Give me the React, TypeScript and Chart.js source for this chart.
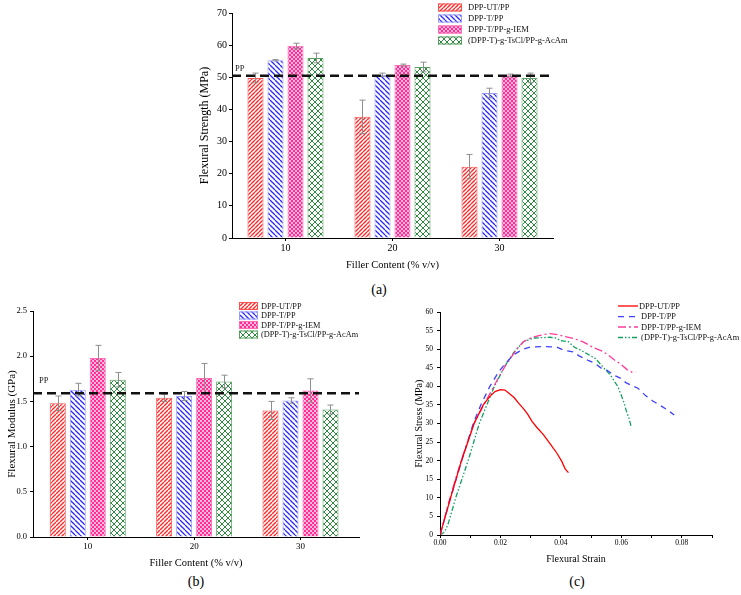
import React, { useEffect, useRef } from "react";
import { Chart, registerables } from "chart.js";
Chart.register(...registerables);

const FONT = "'Liberation Serif', 'Times New Roman', serif";

// ---------- shared ----------
const seriesNames = ["DPP-UT/PP", "DPP-T/PP", "DPP-T/PP-g-IEM", "(DPP-T)-g-TsCl/PP-g-AcAm"];
const fillerContent = [10, 20, 30];

// ---------- (a) Flexural strength (MPa) ----------
const strengthUT = [49.8, 37.7, 22.2];
const strengthUTErr = [1.5, 5.2, 3.8];
const strengthT = [55.3, 50.8, 45.1];
const strengthTErr = [0.2, 0.5, 1.5];
const strengthIEM = [59.8, 53.8, 50.6];
const strengthIEMErr = [0.8, 0.3, 0.4];
const strengthAcAm = [56.0, 53.2, 49.8];
const strengthAcAmErr = [1.5, 1.5, 1.5];
const strengthPP = 50.5;

// ---------- (b) Flexural modulus (GPa) ----------
const modulusUT = [1.48, 1.54, 1.4];
const modulusUTErr = [0.08, 0.04, 0.1];
const modulusT = [1.63, 1.56, 1.51];
const modulusTErr = [0.07, 0.05, 0.03];
const modulusIEM = [1.98, 1.76, 1.62];
const modulusIEMErr = [0.14, 0.16, 0.13];
const modulusAcAm = [1.74, 1.72, 1.41];
const modulusAcAmErr = [0.08, 0.07, 0.05];
const modulusPP = 1.59;

// ---------- (c) stress-strain curves ----------
const strainUT = [0, 0.0035, 0.0071, 0.0113, 0.0143, 0.0165, 0.0182, 0.02, 0.0215, 0.023, 0.0245, 0.026, 0.0276, 0.029, 0.0305, 0.032, 0.0342, 0.0364, 0.0387, 0.0403, 0.0414, 0.0425];
const stressUT = [0, 10, 20, 30, 35, 37.3, 38.6, 39.1, 39, 38, 37, 35.5, 34, 32.5, 30.5, 29, 27, 24.6, 22, 19.8, 17.8, 16.8];
const strainT = [0, 0.0035, 0.0072, 0.011, 0.0135, 0.0165, 0.0195, 0.0215, 0.0243, 0.0275, 0.03, 0.035, 0.0385, 0.041, 0.044, 0.046, 0.049, 0.051, 0.0535, 0.055, 0.0575, 0.0595, 0.0615, 0.064, 0.0655, 0.068, 0.0705, 0.073, 0.0755, 0.0775];
const stressT = [0, 10, 20, 30, 35, 40, 44, 46, 48.5, 50, 50.6, 50.7, 50.6, 49.7, 49.3, 48.2, 47, 46.3, 44.8, 44.5, 43, 42.3, 41, 40, 39.5, 37.5, 36, 34.8, 33.5, 32.3];
const strainIEM = [0, 0.0033, 0.007, 0.0112, 0.0145, 0.0178, 0.0205, 0.022, 0.0254, 0.0276, 0.0305, 0.0335, 0.0364, 0.039, 0.0415, 0.0445, 0.0475, 0.0508, 0.0541, 0.056, 0.0575, 0.0597, 0.0619, 0.0635, 0.0647];
const stressIEM = [0, 10, 20, 30, 35, 40, 44, 46, 50, 52, 53.2, 53.8, 54.2, 53.9, 53.4, 52.8, 51.9, 50.4, 49.3, 48.2, 47.2, 46, 44.5, 43.8, 43.9];
const strainAcAm = [0, 0.0015, 0.0027, 0.0052, 0.0093, 0.013, 0.0155, 0.018, 0.0215, 0.0243, 0.0276, 0.031, 0.0364, 0.0385, 0.0398, 0.0425, 0.0445, 0.0464, 0.0486, 0.0514, 0.0536, 0.0564, 0.0588, 0.0598, 0.0608, 0.0618, 0.0625, 0.0632];
const stressAcAm = [0, 0.8, 3, 10, 20, 30, 35, 40, 45.5, 49, 52, 53, 53.2, 53, 52.3, 52, 50.5, 49.8, 48.8, 47.5, 45.5, 43, 40, 38, 35.8, 33, 31.5, 29.3];

const strainTicks = [0, 0.01, 0.02, 0.03, 0.04, 0.05, 0.06, 0.07, 0.08, 0.09];

// ---------- styles ----------
const barColors = ["#ff2a2a", "#2a2aff", "#ff2d96", "#2f8a40"];
const barBorders = ["#ff5050", "#9a9aff", "#ff6ab4", "#5a9e62"];
const patternKinds = ["fwd", "back", "check", "cross"];
const lineColors = ["#ff0000", "#4040ff", "#ff3c9a", "#14a060"];
const lineDashes: number[][] = [[], [6, 5], [8, 3, 2, 3], [5, 2, 1.5, 2, 1.5, 2]];

function makePattern(kind: string, color: string): CanvasPattern | string {
  const c = document.createElement("canvas");
  const s = kind === "fwd" ? 4 : kind === "back" ? 5 : kind === "check" ? 4 : 6;
  c.width = s;
  c.height = s;
  const g = c.getContext("2d");
  if (!g) return color;
  g.fillStyle = "#fff";
  g.fillRect(0, 0, s, s);
  g.strokeStyle = color;
  g.fillStyle = color;
  if (kind === "check") {
    g.fillRect(0, 0, 2, 2);
    g.fillRect(2, 2, 2, 2);
    g.globalAlpha = 0.35;
    g.fillRect(2, 0, 2, 2);
    g.fillRect(0, 2, 2, 2);
    g.globalAlpha = 1;
  } else {
    g.lineWidth = kind === "fwd" ? 1.4 : kind === "back" ? 1.3 : 1;
    for (const k of [-s, 0, s]) {
      if (kind === "fwd" || kind === "cross") {
        g.beginPath();
        g.moveTo(k, s);
        g.lineTo(k + s, 0);
        g.stroke();
      }
      if (kind === "back" || kind === "cross") {
        g.beginPath();
        g.moveTo(k, 0);
        g.lineTo(k + s, s);
        g.stroke();
      }
    }
  }
  const p = g.createPattern(c, "repeat");
  return p || color;
}

type LegendCfg = {
  x: number;
  w: number;
  h: number;
  textX: number;
  rows: number[];
  font: number;
  kind: "box" | "line";
};

function overlayPlugin(opts: {
  errors?: number[][];
  pp?: number;
  ppDx?: number;
  ppDy?: number;
  legend: LegendCfg;
}) {
  return {
    id: "overlay",
    afterDatasetsDraw(chart: any) {
      const ctx: CanvasRenderingContext2D = chart.ctx;
      const yS = chart.scales.y;
      const area = chart.chartArea;
      if (opts.errors) {
        ctx.save();
        ctx.strokeStyle = "#8e8e8e";
        ctx.lineWidth = 1;
        opts.errors.forEach((arr, di) => {
          const meta = chart.getDatasetMeta(di);
          meta.data.forEach((el: any, j: number) => {
            const v = chart.data.datasets[di].data[j].y;
            const x = Math.round(el.x) + 0.5;
            const t = yS.getPixelForValue(v + arr[j]);
            const b = yS.getPixelForValue(v - arr[j]);
            ctx.beginPath();
            ctx.moveTo(x, t);
            ctx.lineTo(x, b);
            ctx.moveTo(x - 3, t);
            ctx.lineTo(x + 3, t);
            ctx.moveTo(x - 3, b);
            ctx.lineTo(x + 3, b);
            ctx.stroke();
          });
        });
        ctx.restore();
      }
      if (opts.pp !== undefined) {
        const py = yS.getPixelForValue(opts.pp);
        ctx.save();
        ctx.strokeStyle = "#111";
        ctx.lineWidth = 2.5;
        ctx.setLineDash([9, 5]);
        ctx.beginPath();
        ctx.moveTo(area.left, py);
        ctx.lineTo(area.right, py);
        ctx.stroke();
        ctx.setLineDash([]);
        ctx.fillStyle = "#222";
        ctx.font = `8.5px ${FONT}`;
        ctx.textAlign = "left";
        ctx.textBaseline = "middle";
        ctx.fillText("PP", area.left + (opts.ppDx || 3), py - (opts.ppDy || 7));
        ctx.restore();
      }
    },
    afterDraw(chart: any) {
      const ctx: CanvasRenderingContext2D = chart.ctx;
      const L = opts.legend;
      ctx.save();
      chart.data.datasets.forEach((ds: any, i: number) => {
        const cy = L.rows[i];
        if (L.kind === "box") {
          ctx.fillStyle = ds.backgroundColor;
          ctx.fillRect(L.x, cy - L.h / 2, L.w, L.h);
          ctx.strokeStyle = ds.borderColor;
          ctx.lineWidth = 1;
          ctx.strokeRect(L.x + 0.5, cy - L.h / 2 + 0.5, L.w - 1, L.h - 1);
        } else {
          ctx.strokeStyle = ds.borderColor;
          ctx.lineWidth = 1.3;
          ctx.setLineDash(ds.borderDash || []);
          ctx.beginPath();
          ctx.moveTo(L.x, cy);
          ctx.lineTo(L.x + L.w, cy);
          ctx.stroke();
          ctx.setLineDash([]);
        }
        ctx.fillStyle = "#111";
        ctx.font = `${L.font}px ${FONT}`;
        ctx.textAlign = "left";
        ctx.textBaseline = "middle";
        ctx.fillText(ds.label, L.textX, cy + 0.5);
      });
      ctx.restore();
    },
  };
}

function axisBase(size: number, tickLen: number, pad: number) {
  return {
    grid: {
      display: true,
      drawOnChartArea: false,
      drawTicks: true,
      tickLength: tickLen,
      tickColor: "#000",
      offset: false,
    },
    border: { display: true, color: "#000", width: 1 },
    ticks: {
      color: "#000",
      font: { family: FONT, size },
      padding: pad,
      maxRotation: 0,
      autoSkip: false,
    },
  };
}

function barConfig(p: {
  values: number[][];
  errors: number[][];
  pp: number;
  ppDx: number;
  ppDy: number;
  yMax: number;
  yStep: number;
  yDecimals: number;
  yTitle: string;
  yTitleSize: number;
  yTitlePad: number;
  yWidth: number;
  yTickSize: number;
  yTickPad: number;
  xMin: number;
  xMax: number;
  xHeight: number;
  xTickSize: number;
  xTitleSize: number;
  xTitlePad: number;
  padding: any;
  catPct: number;
  legend: LegendCfg;
}) {
  const datasets = p.values.map((vals, i) => ({
    label: seriesNames[i],
    data: fillerContent.map((x, j) => ({ x, y: vals[j] })),
    backgroundColor: makePattern(patternKinds[i], barColors[i]),
    borderColor: barBorders[i],
    borderWidth: 1,
    categoryPercentage: p.catPct,
    barPercentage: 0.8,
  }));
  const xb = axisBase(p.xTickSize, 3, 1);
  const yb = axisBase(p.yTickSize, 3, p.yTickPad);
  return {
    type: "bar",
    data: { datasets },
    options: {
      responsive: false,
      animation: false,
      events: [],
      layout: { padding: p.padding },
      plugins: { legend: { display: false }, tooltip: { enabled: false } },
      scales: {
        x: {
          type: "linear",
          min: p.xMin,
          max: p.xMax,
          offset: false,
          ...xb,
          ticks: { ...xb.ticks, callback: (v: any) => String(v) },
          afterBuildTicks: (s: any) => {
            s.ticks = fillerContent.map((v) => ({ value: v }));
          },
          afterFit: (s: any) => {
            s.height = p.xHeight;
          },
          title: {
            display: true,
            text: "Filler Content (% v/v)",
            color: "#000",
            font: { family: FONT, size: p.xTitleSize },
            padding: { top: 0, bottom: p.xTitlePad },
          },
        },
        y: {
          type: "linear",
          min: 0,
          max: p.yMax,
          ...yb,
          ticks: {
            ...yb.ticks,
            stepSize: p.yStep,
            callback: (v: any) => Number(v).toFixed(p.yDecimals),
          },
          afterFit: (s: any) => {
            s.width = p.yWidth;
          },
          title: {
            display: true,
            text: p.yTitle,
            color: "#000",
            font: { family: FONT, size: p.yTitleSize },
            padding: { top: p.yTitlePad, bottom: 0 },
          },
        },
      },
    },
    plugins: [
      overlayPlugin({ errors: p.errors, pp: p.pp, ppDx: p.ppDx, ppDy: p.ppDy, legend: p.legend }),
    ],
  } as any;
}

function curveConfig() {
  const xs = [strainUT, strainT, strainIEM, strainAcAm];
  const ys = [stressUT, stressT, stressIEM, stressAcAm];
  const datasets = xs.map((xArr, i) => ({
    label: i === 0 ? seriesNames[i] : " " + seriesNames[i],
    data: xArr.map((x, j) => ({ x, y: ys[i][j] })),
    showLine: true,
    borderColor: lineColors[i],
    backgroundColor: lineColors[i],
    borderWidth: 1.3,
    borderDash: lineDashes[i],
    pointRadius: 0,
    tension: 0,
    fill: false,
  }));
  const xb = axisBase(7.5, 3, 1);
  const yb = axisBase(7.5, 3, 4);
  return {
    type: "scatter",
    data: { datasets },
    options: {
      responsive: false,
      animation: false,
      events: [],
      layout: { padding: { top: 22, right: 29, left: 0, bottom: 0 } },
      plugins: { legend: { display: false }, tooltip: { enabled: false } },
      scales: {
        x: {
          type: "linear",
          min: 0,
          max: 0.09,
          ...xb,
          ticks: {
            ...xb.ticks,
            callback: (v: any, i: number) => (i % 2 === 0 ? Number(v).toFixed(2) : ""),
          },
          afterBuildTicks: (s: any) => {
            s.ticks = strainTicks.map((v) => ({ value: v }));
          },
          afterFit: (s: any) => {
            s.height = 38;
          },
          title: {
            display: true,
            text: "Flexural Strain",
            color: "#000",
            font: { family: FONT, size: 10 },
            padding: { top: 0, bottom: 8 },
          },
        },
        y: {
          type: "linear",
          min: 0,
          max: 60,
          ...yb,
          ticks: { ...yb.ticks, stepSize: 5 },
          afterFit: (s: any) => {
            s.width = 32;
          },
          title: {
            display: true,
            text: "Flexural Stress (MPa)",
            color: "#000",
            font: { family: FONT, size: 10 },
            padding: { top: 5, bottom: 0 },
          },
        },
      },
    },
    plugins: [
      overlayPlugin({
        legend: { x: 210, w: 20, h: 0, textX: 231, rows: [16, 26.7, 37, 47.5], font: 8.4, kind: "line" },
      }),
    ],
  } as any;
}

const labelStyle = (cx: number, cy: number): React.CSSProperties => ({
  position: "absolute",
  left: cx,
  top: cy,
  transform: "translate(-50%, -50%)",
  fontFamily: FONT,
  fontSize: 14,
  lineHeight: 1,
  color: "#000",
  whiteSpace: "nowrap",
});

export default function App() {
  const refA = useRef<HTMLCanvasElement>(null);
  const refB = useRef<HTMLCanvasElement>(null);
  const refC = useRef<HTMLCanvasElement>(null);

  useEffect(() => {
    const charts: Chart[] = [];
    if (refA.current) {
      charts.push(
        new Chart(
          refA.current,
          barConfig({
            values: [strengthUT, strengthT, strengthIEM, strengthAcAm],
            errors: [strengthUTErr, strengthTErr, strengthIEMErr, strengthAcAmErr],
            pp: strengthPP,
            ppDx: 3,
            ppDy: 7,
            yMax: 70,
            yStep: 10,
            yDecimals: 0,
            yTitle: "Flexural Strength (MPa)",
            yTitleSize: 12,
            yTitlePad: 3,
            yWidth: 37,
            yTickSize: 10,
            yTickPad: 2,
            xMin: 5,
            xMax: 35,
            xHeight: 37,
            xTickSize: 10,
            xTitleSize: 10.5,
            xTitlePad: 3.7,
            padding: { top: 13, right: 22, left: 0, bottom: 0 },
            catPct: 0.748,
            legend: { x: 243, w: 24, h: 8, textX: 273, rows: [7.5, 18.5, 29.5, 40.5], font: 8.5, kind: "box" },
          })
        )
      );
    }
    if (refB.current) {
      charts.push(
        new Chart(
          refB.current,
          barConfig({
            values: [modulusUT, modulusT, modulusIEM, modulusAcAm],
            errors: [modulusUTErr, modulusTErr, modulusIEMErr, modulusAcAmErr],
            pp: modulusPP,
            ppDx: 6,
            ppDy: 12,
            yMax: 2.5,
            yStep: 0.5,
            yDecimals: 1,
            yTitle: "Flexural Modulus (GPa)",
            yTitleSize: 11,
            yTitlePad: 5.4,
            yWidth: 33,
            yTickSize: 8.5,
            yTickPad: 3,
            xMin: 4.85,
            xMax: 35.5,
            xHeight: 36,
            xTickSize: 9,
            xTitleSize: 10.5,
            xTitlePad: 3.7,
            padding: { top: 21, right: 11, left: 0, bottom: 0 },
            catPct: 0.752,
            legend: { x: 239, w: 19, h: 8, textX: 261, rows: [16, 25.5, 35, 44.5], font: 8.3, kind: "box" },
          })
        )
      );
    }
    if (refC.current) {
      charts.push(new Chart(refC.current, curveConfig()));
    }
    return () => charts.forEach((c) => c.destroy());
  }, []);

  return (
    <div
      style={{
        position: "fixed",
        left: 0,
        top: 0,
        width: 741,
        height: 595,
        background: "#fff",
        overflow: "hidden",
      }}
    >
      <canvas
        ref={refA}
        width={380}
        height={275}
        style={{ position: "absolute", left: 195, top: 0, width: 380, height: 275 }}
      />
      <canvas
        ref={refB}
        width={370}
        height={283}
        style={{ position: "absolute", left: 0, top: 290, width: 370, height: 283 }}
      />
      <canvas
        ref={refC}
        width={333}
        height={283}
        style={{ position: "absolute", left: 408, top: 290, width: 333, height: 283 }}
      />
      <div style={labelStyle(379, 290)}>(a)</div>
      <div style={labelStyle(196, 582)}>(b)</div>
      <div style={labelStyle(577, 582)}>(c)</div>
    </div>
  );
}
